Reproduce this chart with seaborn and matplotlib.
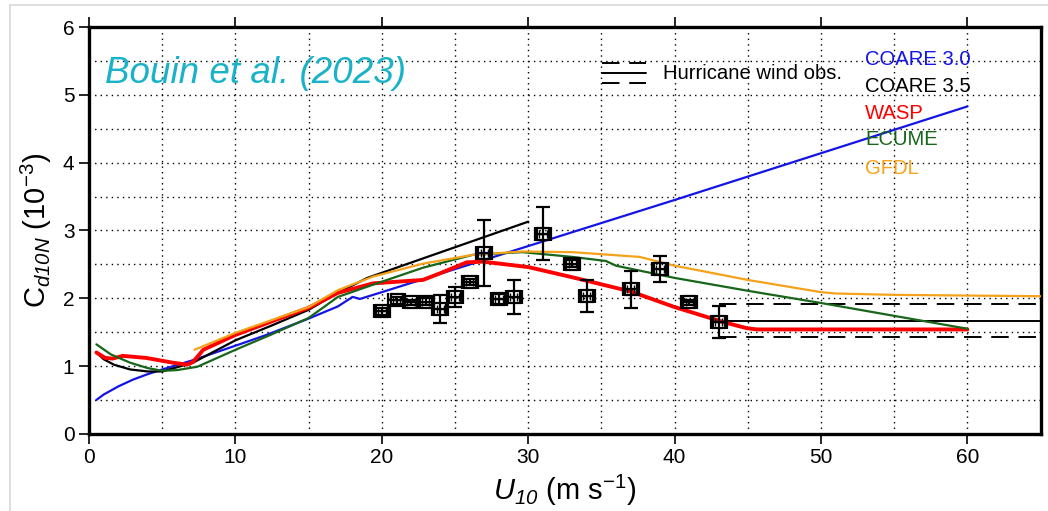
import numpy as np
import pandas as pd
import matplotlib
matplotlib.use("Agg")
import matplotlib.pyplot as plt
from matplotlib.lines import Line2D
import seaborn as sns

# ---- data ----
coare30_u = [0.5, 1, 2, 3, 4, 5, 7, 10, 12, 15, 17, 18, 18.5, 20, 25, 30, 40, 50, 60]
coare30_cd = [0.50, 0.58, 0.70, 0.80, 0.88, 0.95, 1.08, 1.30, 1.45, 1.70, 1.88, 2.02, 1.99, 2.09, 2.43, 2.77, 3.45, 4.14, 4.83]

coare35_u = [0.5, 1.0, 1.7, 2.8, 4, 5, 7.1, 10, 12.5, 15, 17, 19, 30]
coare35_cd = [1.20, 1.10, 1.02, 0.95, 0.92, 0.92, 1.05, 1.38, 1.60, 1.83, 2.08, 2.30, 3.13]

wasp_u = [0.5, 1.1, 1.6, 2.3, 3.9, 5.7, 6.7, 7.1, 7.8, 10, 15, 17, 19.4, 22.8, 24, 25.8, 26.9, 30, 33, 37, 40, 43.3, 44.9, 45.6, 60]
wasp_cd = [1.20, 1.12, 1.11, 1.15, 1.12, 1.05, 1.02, 1.06, 1.24, 1.46, 1.86, 2.08, 2.22, 2.27, 2.37, 2.53, 2.54, 2.46, 2.31, 2.10, 1.87, 1.65, 1.56, 1.54, 1.54]

ecume_u = [0.5, 1.5, 2.8, 4, 5, 6, 7.4, 10, 12.5, 15, 17, 19.4, 22.8, 26.2, 29.6, 33, 35.3, 36, 40, 45, 50, 55, 60]
ecume_cd = [1.32, 1.17, 1.05, 0.97, 0.93, 0.94, 0.99, 1.24, 1.47, 1.71, 2.02, 2.20, 2.45, 2.64, 2.68, 2.61, 2.55, 2.48, 2.30, 2.11, 1.93, 1.74, 1.55]

gfdl_u = [7.2, 10, 15, 17, 19.4, 22.8, 26.2, 29.6, 33, 37.6, 40, 45, 50, 51, 55, 65]
gfdl_cd = [1.24, 1.49, 1.87, 2.12, 2.32, 2.51, 2.64, 2.69, 2.68, 2.61, 2.48, 2.27, 2.09, 2.07, 2.05, 2.03]

obs_u = [20, 21, 22, 23, 24, 25, 26, 27, 28, 29, 31, 33, 34, 37, 39, 41, 43]
obs_cd = [1.81, 1.97, 1.94, 1.95, 1.84, 2.02, 2.24, 2.67, 1.99, 2.02, 2.95, 2.51, 2.03, 2.13, 2.43, 1.94, 1.65]
obs_err = [0.05, 0.05, 0.04, 0.05, 0.21, 0.15, 0.05, 0.49, 0.08, 0.25, 0.39, 0.05, 0.24, 0.27, 0.19, 0.04, 0.24]

hurr_u = [43, 65]
hurr_mean = [1.67, 1.67]
hurr_hi = [1.91, 1.91]
hurr_lo = [1.43, 1.43]

models = ["COARE 3.0", "COARE 3.5", "WASP", "ECUME", "GFDL"]
colors = ["#1414e6", "#000000", "#ff0000", "#17661a", "#f5a21b"]
widths = [1.6, 1.6, 2.8, 1.6, 1.6]

frames = []
for name, u, cd in [("COARE 3.0", coare30_u, coare30_cd), ("COARE 3.5", coare35_u, coare35_cd),
                    ("WASP", wasp_u, wasp_cd), ("ECUME", ecume_u, ecume_cd), ("GFDL", gfdl_u, gfdl_cd)]:
    frames.append(pd.DataFrame({"U10": u, "Cd": cd, "model": name}))
df = pd.concat(frames, ignore_index=True)

sns.set_style("ticks")
plt.rcParams["font.family"] = ["Liberation Sans", "DejaVu Sans"]
plt.rcParams["mathtext.fontset"] = "custom"
plt.rcParams["mathtext.rm"] = "Liberation Sans"
plt.rcParams["mathtext.it"] = "Liberation Sans:italic"
# italic digits in subscripts (mathtext forces digits upright in \mathit)
plt.rcParams["mathtext.sf"] = "Liberation Sans:italic"

fig = plt.figure(figsize=(10.48, 5.11), dpi=100)
ax = fig.add_axes([0.085, 0.151, 0.908, 0.796])

# screenshot border
fig.add_artist(Line2D([0.0095, 0.0095], [0, 0.99], color="#d8d8d8", lw=1.2))
fig.add_artist(Line2D([0.0095, 1], [0.99, 0.99], color="#d8d8d8", lw=1.2))

# grid
for xv in np.arange(5, 65, 5):
    ax.axvline(xv, color="k", ls=(0, (1, 3)), lw=1.0, zorder=0)
for yv in np.arange(0.5, 6, 0.5):
    ax.axhline(yv, color="k", ls=(0, (1, 3)), lw=1.0, zorder=0)

for name, c, w in zip(models, colors, widths):
    sub = df[df["model"] == name]
    sns.lineplot(data=sub, x="U10", y="Cd", color=c, lw=w, ax=ax, sort=False,
                 estimator=None, legend=False, zorder=3)

# hurricane obs
dash = (0, (9, 5))
ax.plot(hurr_u, hurr_mean, color="k", lw=1.4, zorder=2)
ax.plot(hurr_u, hurr_hi, color="k", lw=1.4, ls=dash, zorder=2)
ax.plot(hurr_u, hurr_lo, color="k", lw=1.4, ls=dash, zorder=2)

ax.errorbar(obs_u, obs_cd, yerr=obs_err, xerr=0.55, fmt="s", ms=9, mfc="none",
            mec="k", mew=1.6, ecolor="k", elinewidth=1.6, capsize=5, capthick=1.6, zorder=5)
ax.errorbar(obs_u, obs_cd, xerr=0.25, fmt="none", ecolor="k", elinewidth=1.0,
            capsize=3, capthick=1.0, zorder=5)

ax.set_xlim(0, 65)
ax.set_ylim(0, 6)
ax.set_xticks(np.arange(0, 61, 10))
ax.set_yticks(np.arange(0, 7, 1))
ax.tick_params(axis="both", direction="out", length=7, width=1.2, labelsize=15,
               top=True, right=False, labeltop=False, color="k", labelcolor="k")
for s in ax.spines.values():
    s.set_linewidth(2.4)
    s.set_color("k")
    s.set_visible(True)

ax.set_xlabel(r"$U_{\mathsf{10}}$ (m s$^{-1}$)", fontsize=21, labelpad=4, color="k")
ax.set_ylabel(r"$\mathrm{C}_{\mathsf{d10N}}$ (10$^{-3}$)", fontsize=21, labelpad=6, color="k")

ax.text(1.1, 5.32, "Bouin et al. (2023)", color="#19b2c9", fontsize=26.5,
        style="italic", va="center", ha="left")

# legend for hurricane obs
ax.plot([0.5385, 0.585], [0.9115, 0.9115], transform=ax.transAxes, color="k", lw=1.4, ls=dash)
ax.plot([0.5385, 0.585], [0.887, 0.887], transform=ax.transAxes, color="k", lw=1.4)
ax.plot([0.5385, 0.585], [0.8625, 0.8625], transform=ax.transAxes, color="k", lw=1.4, ls=dash)
ax.text(0.603, 0.887, "Hurricane wind obs.", transform=ax.transAxes, fontsize=14.6,
        va="center", ha="left", color="k")

ys = [5.52, 5.13, 4.73, 4.34, 3.91]
for name, c, y in zip(models, colors, ys):
    ax.text(53.0, y, name, color=c, fontsize=14.6, va="center", ha="left")

fig.savefig("out.png", dpi=100)
